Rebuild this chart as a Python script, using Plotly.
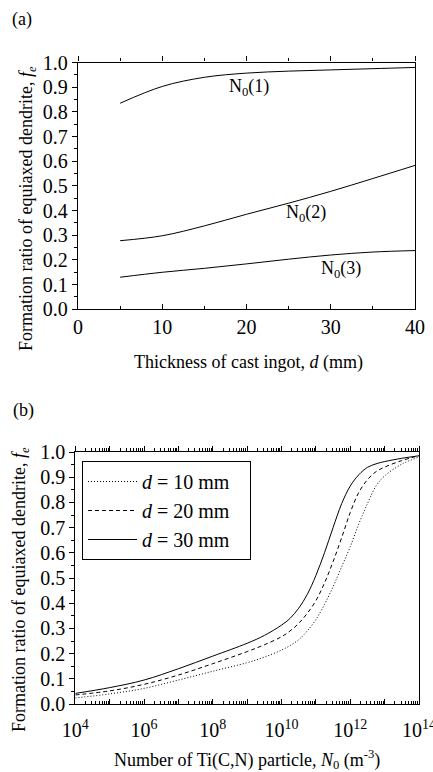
import plotly.graph_objects as go

# ---------------- data: panel (a) ----------------
thickness_mm = [5, 10, 15, 20, 25, 30, 35, 40]
fe_N0_1 = [0.835, 0.903, 0.940, 0.957, 0.965, 0.970, 0.975, 0.980]
fe_N0_2 = [0.278, 0.298, 0.338, 0.385, 0.430, 0.478, 0.530, 0.583]
fe_N0_3 = [0.130, 0.150, 0.166, 0.184, 0.203, 0.220, 0.232, 0.238]
a_labels = ["N<sub>0</sub>(1)", "N<sub>0</sub>(2)", "N<sub>0</sub>(3)"]
a_label_x = [20.3, 27.1, 31.2]
a_label_y = [0.897, 0.390, 0.160]

# ---------------- data: panel (b) ----------------
log_N0 = [4, 5, 6, 7, 8, 9, 9.5, 10, 10.25, 10.5, 10.75, 11, 11.25, 11.5, 11.75, 12, 12.25, 12.5, 12.75, 13, 13.5, 14]
N0 = [10 ** e for e in log_N0]
fe_d10 = [0.024, 0.040, 0.062, 0.095, 0.130, 0.164, 0.186, 0.214, 0.232, 0.255, 0.290, 0.335, 0.395, 0.465, 0.545,
          0.624, 0.715, 0.795, 0.865, 0.905, 0.952, 0.980]
fe_d20 = [0.036, 0.052, 0.078, 0.115, 0.160, 0.208, 0.235, 0.267, 0.290, 0.320, 0.360, 0.410, 0.480, 0.565, 0.660,
          0.760, 0.840, 0.890, 0.922, 0.940, 0.966, 0.985]
fe_d30 = [0.042, 0.065, 0.095, 0.140, 0.190, 0.241, 0.272, 0.313, 0.340, 0.380, 0.435, 0.510, 0.600, 0.700, 0.795,
          0.865, 0.910, 0.939, 0.953, 0.962, 0.975, 0.985]
b_names = ["<i>d</i> = 10 mm", "<i>d</i> = 20 mm", "<i>d</i> = 30 mm"]
decades = list(range(4, 15))
decade_labels = [("10<sup>%d</sup>" % k) if k % 2 == 0 else "" for k in decades]
y_ticks = [round(0.1 * i, 1) for i in range(11)]

FONT = "Liberation Serif"
TICKF = dict(family=FONT, size=20, color="black")

fig = go.Figure()

# panel (a) curves
for ys in (fe_N0_1, fe_N0_2, fe_N0_3):
    fig.add_trace(go.Scatter(x=thickness_mm, y=ys, mode="lines", line=dict(color="black", width=1, shape="spline"),
                             showlegend=False, hoverinfo="skip", xaxis="x", yaxis="y"))
fig.add_trace(go.Scatter(x=[None], y=[None], mode="lines", showlegend=False, hoverinfo="skip", xaxis="x2", yaxis="y"))

# panel (b) curves
dashes = ["1px,2px", "4px,3px", "solid"]
for ys, nm, ds in zip((fe_d10, fe_d20, fe_d30), b_names, dashes):
    fig.add_trace(go.Scatter(x=N0, y=ys, mode="lines", name=nm + "&nbsp;&nbsp;&nbsp;",
                             line=dict(color="black", width=1, dash=ds, shape="spline"),
                             hoverinfo="skip", xaxis="x3", yaxis="y3"))
fig.add_trace(go.Scatter(x=[None], y=[None], mode="lines", showlegend=False, hoverinfo="skip", xaxis="x4", yaxis="y3"))

W, H = 433, 772
ax_dom = [78 / W, 415 / W]
ay_dom = [1 - 309.3 / H, 1 - 62.5 / H]
bx_dom = [75.3 / W, 419 / W]
by_dom = [1 - 704 / H, 1 - 452 / H]

common = dict(showgrid=False, zeroline=False, linecolor="black", linewidth=1.3, tickcolor="black",
              tickwidth=1, tickfont=TICKF, automargin=False, ticklabeloverflow="allow")

minor_log = [m * 10 ** k for k in range(4, 14) for m in range(2, 10)]

fig.update_layout(
    width=W, height=H, margin=dict(l=0, r=0, t=0, b=0, autoexpand=False),
    paper_bgcolor="white", plot_bgcolor="white",
    font=dict(family=FONT, color="black"),
    xaxis=dict(domain=ax_dom, anchor="y", range=[0, 40], tickvals=[0, 10, 20, 30, 40], ticks="inside", ticklen=5,
               showline=True, minor=dict(ticks="inside", ticklen=3, tick0=0, dtick=5, tickcolor="black"), **common),
    xaxis2=dict(overlaying="x", side="top", anchor="y", range=[0, 40], tickvals=[0, 10, 20, 30, 40], ticks="outside",
                ticklen=5, showticklabels=False, showline=True,
                minor=dict(ticks="outside", ticklen=3, tick0=0, dtick=5, tickcolor="black"), **common),
    yaxis=dict(domain=ay_dom, anchor="x", range=[0, 1], tickvals=y_ticks, tickformat=".1f", ticks="outside", ticklen=5,
               showline=True, mirror=True,
               minor=dict(ticks="outside", ticklen=3, tick0=0, dtick=0.05, tickcolor="black"), **common),
    xaxis3=dict(domain=bx_dom, anchor="y3", type="log", range=[4, 14], tickmode="array",
                tickvals=[10 ** k for k in decades], ticktext=decade_labels, ticks="inside", ticklen=5, showline=True,
                ticklabelstandoff=8,
                minor=dict(ticks="inside", ticklen=3, tickmode="array", tickvals=minor_log, tickcolor="black"), **common),
    xaxis4=dict(overlaying="x3", side="top", anchor="y3", type="log", range=[4, 14], tickmode="array",
                tickvals=[10 ** k for k in decades], ticks="outside", ticklen=5, showticklabels=False, showline=True,
                minor=dict(ticks="outside", ticklen=3, tickmode="array", tickvals=minor_log, tickcolor="black"), **common),
    yaxis3=dict(domain=by_dom, anchor="x3", range=[0, 1], tickvals=y_ticks, tickformat=".1f", ticks="outside", ticklen=5,
                showline=True, mirror=True,
                minor=dict(ticks="outside", ticklen=3, tick0=0, dtick=0.05, tickcolor="black"), **common),
    legend=dict(x=82 / W, y=1 - 461 / H, xanchor="left", yanchor="top", bordercolor="black", borderwidth=1,
                bgcolor="white", font=dict(family=FONT, size=20, color="black"), itemwidth=49,
                tracegroupgap=0),
)

TF = dict(family=FONT, size=18, color="black")


def ann(text, x, y, ref="paper", angle=0):
    if ref == "paper":
        fig.add_annotation(text=text, x=x / W, y=1 - y / H, xref="paper", yref="paper", showarrow=False, font=TF,
                           xanchor="center", yanchor="middle", textangle=angle)
    else:
        fig.add_annotation(text=text, x=x, y=y, xref="x", yref="y", showarrow=False, font=TF,
                           xanchor="center", yanchor="middle")


for txt, x, y in zip(a_labels, a_label_x, a_label_y):
    ann(txt, x, y, ref="data")

ann("(a)", 22, 20)
ann("(b)", 23, 410)
ann("Thickness of cast ingot, <i>d</i> (mm)", 248, 362)
ann("Number of Ti(C,N) particle, <i>N</i><sub>0</sub> (m<sup>-3</sup>)", 247, 759)
ann("Formation ratio of equiaxed dendrite, <i>f</i><sub><i>e</i></sub>", 27, 209, angle=-90)
ann("Formation ratio of equiaxed dendrite, <i>f</i><sub><i>e</i></sub>", 20, 590, angle=-90)

fig.write_html("out.html")
